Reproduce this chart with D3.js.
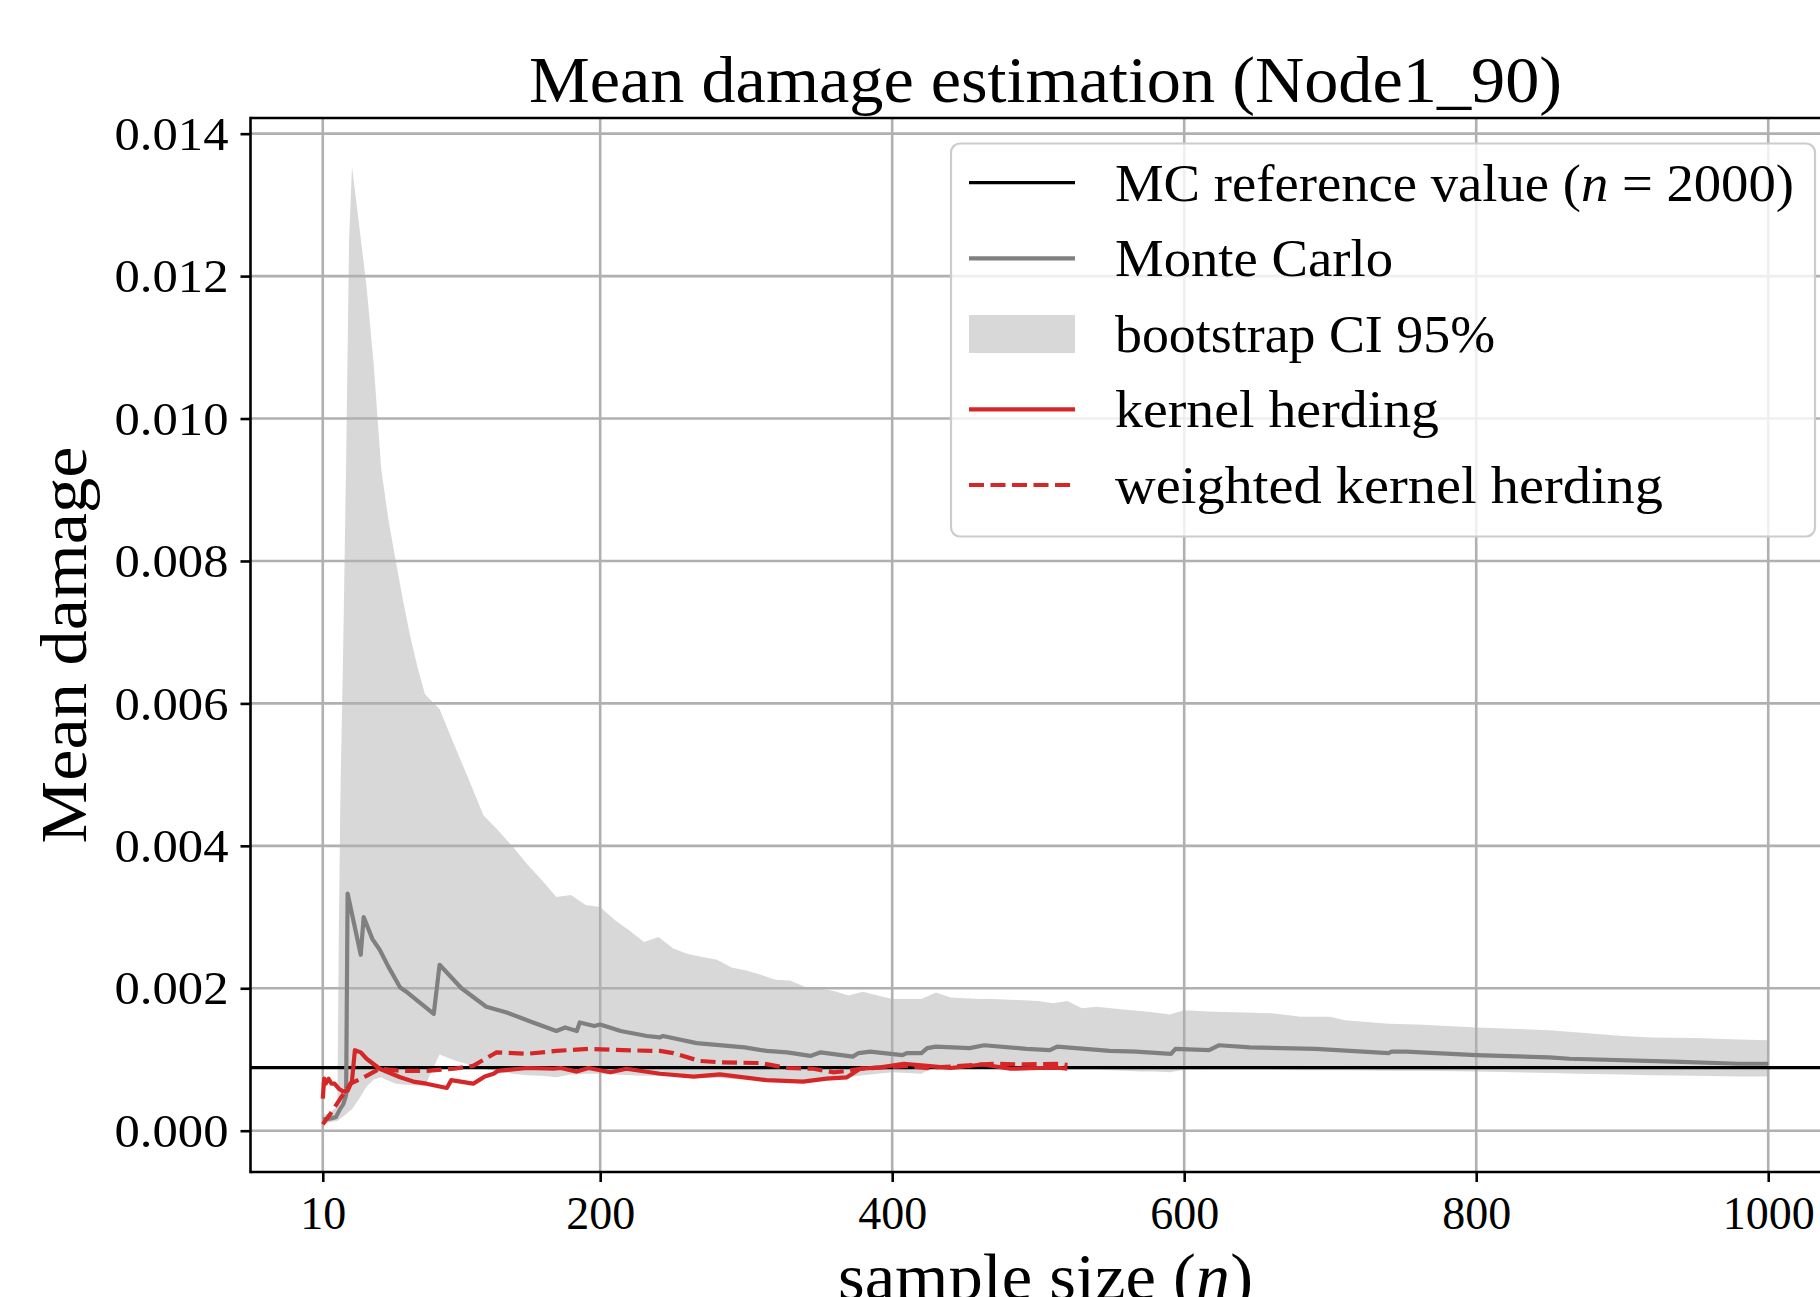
<!DOCTYPE html>
<html>
<head>
<meta charset="utf-8">
<script src="https://cdn.jsdelivr.net/npm/d3@7"></script>
<style>
  html, body { margin: 0; padding: 0; background: #ffffff; }
  svg { display: block; }
  text { font-family: "Liberation Serif", "DejaVu Serif", serif; fill: #000; }
</style>
</head>
<body>
<svg id="chart" width="1820" height="1297"></svg>
<script>
// ---------------- data ----------------
const xTicks = [10, 200, 400, 600, 800, 1000];
const yTicks = [0.000, 0.002, 0.004, 0.006, 0.008, 0.010, 0.012, 0.014];

const referenceValue = 0.000885;

const mcN = [10,15,19,22,24,26,27,36,38,44,49,55,63,68,86,90,105,122,136,154,170,176,184,186,196,200,214,232,241,243,266,299,314,328,344,351,373,377,385,407,410,420,424,430,453,463,492,508,513,549,567,591,594,617,624,645,690,740,742,752,800,850,864,935,980,1000];
const mcMean = [0.00016,0.00017,0.00019,0.00031,0.00037,0.00050,0.00333,0.00247,0.00300,0.00269,0.00254,0.00230,0.00201,0.00194,0.00164,0.00233,0.00200,0.00174,0.00166,0.00152,0.00140,0.00145,0.00140,0.00152,0.00147,0.00149,0.00140,0.00133,0.00131,0.00133,0.00123,0.00117,0.00112,0.00110,0.00105,0.00110,0.00104,0.00109,0.00111,0.00106,0.00109,0.00109,0.00116,0.00118,0.00116,0.00120,0.00115,0.00113,0.00118,0.00112,0.00111,0.00108,0.00115,0.00113,0.00120,0.00117,0.00115,0.00109,0.00111,0.00111,0.00106,0.00103,0.00101,0.00097,0.00094,0.00094];

const ciN = [10,15,20,21,22,24,26,28,30,35,40,45,50,55,60,65,70,75,80,90,100,110,120,130,140,150,160,170,180,190,200,210,220,230,240,250,260,270,280,290,300,310,320,330,340,350,360,370,380,390,400,410,420,430,440,450,460,470,480,490,500,510,520,530,540,550,560,570,580,590,600,620,640,660,680,700,710,740,760,800,850,870,900,920,950,980,1000];
const ciUpper = [0.00022,0.00025,0.00035,0.0028,0.0046,0.0068,0.0094,0.0125,0.01354,0.0127,0.01185,0.01073,0.0093,0.00857,0.0080,0.00744,0.00693,0.0065,0.00613,0.00592,0.00542,0.00493,0.00443,0.00422,0.00399,0.00374,0.00352,0.00328,0.00331,0.00317,0.00314,0.00296,0.00281,0.00265,0.00272,0.00256,0.00248,0.00244,0.00240,0.00229,0.00225,0.00219,0.00212,0.00211,0.00202,0.00200,0.00196,0.00190,0.00195,0.00190,0.00185,0.00185,0.00185,0.00194,0.00187,0.00186,0.00185,0.00185,0.00184,0.00183,0.00182,0.00179,0.00182,0.00172,0.00174,0.00172,0.00170,0.00168,0.00166,0.00163,0.00169,0.00167,0.00166,0.00165,0.00160,0.00160,0.00155,0.00150,0.00149,0.00145,0.00141,0.00138,0.00133,0.00131,0.00130,0.00128,0.00127];
const ciLower = [0.00010,0.00012,0.00014,0.00015,0.00017,0.00020,0.00023,0.00027,0.00030,0.00045,0.00062,0.00072,0.00075,0.00070,0.00066,0.00065,0.00064,0.000635,0.00063,0.00107,0.00099,0.00093,0.00087,0.00083,0.00080,0.00078,0.00077,0.00075,0.00079,0.00080,0.00080,0.00079,0.00078,0.00077,0.00077,0.00076,0.00075,0.00074,0.00074,0.00073,0.00072,0.00071,0.00070,0.00069,0.00068,0.00072,0.00074,0.00075,0.00078,0.00080,0.00082,0.00081,0.00080,0.00091,0.00088,0.00087,0.00087,0.00087,0.00087,0.00087,0.00087,0.00087,0.00086,0.00086,0.00086,0.00085,0.00084,0.00083,0.00083,0.00082,0.000855,0.00086,0.00086,0.00086,0.00085,0.00085,0.00085,0.00084,0.00084,0.00083,0.00081,0.00080,0.00079,0.00078,0.00077,0.00076,0.00076];

const khN = [10,11,12,14,16,18,21,24,27,30,32,36,40,49,63,72,81,95,98,113,117,121,127,130,150,168,173,184,192,207,218,241,264,282,314,339,355,369,378,392,408,424,440,462,481,500,515,520];
const khMean = [0.00045,0.00073,0.00066,0.00073,0.00066,0.00066,0.00059,0.00055,0.00056,0.00070,0.00113,0.00110,0.00101,0.00087,0.00075,0.00069,0.00066,0.00060,0.00071,0.00066,0.00071,0.00076,0.00080,0.00084,0.00088,0.00087,0.00088,0.00083,0.00088,0.00082,0.00087,0.00080,0.00076,0.00079,0.00071,0.00069,0.00073,0.00075,0.00087,0.00089,0.00094,0.00091,0.00088,0.00093,0.00087,0.00088,0.00088,0.00087];

const wkhN = [10,15,22,29,40,49,63,81,100,113,129,150,170,192,216,241,250,268,282,310,328,346,360,369,378,411,424,469,490,515,520];
const wkhMean = [0.00009,0.00023,0.00045,0.00066,0.00077,0.00087,0.00084,0.00084,0.00087,0.00091,0.00110,0.00108,0.00112,0.00115,0.00113,0.00112,0.00109,0.00098,0.00096,0.00095,0.00088,0.00087,0.00082,0.00084,0.00087,0.00091,0.00088,0.00094,0.00093,0.00094,0.00092];

const titleText = "Mean damage estimation (Node1_90)";
const legendLabels = ["MC reference value", "Monte Carlo", "bootstrap CI 95%", "kernel herding", "weighted kernel herding"];

// ---------------- layout ----------------
const plot = { left: 250.5, right: 1840.5, top: 118, bottom: 1172 };
const colors = { mc: "#808080", ci: "#d8d8d8", kh: "#d62728", ref: "#000000", grid: "#b0b0b0" };
const LW = 4.2;

const svg = d3.select("#chart");
svg.append("rect").attr("width", 1820).attr("height", 1297).attr("fill", "#fff");

const x = d3.scaleLinear().domain([-39.5, 1049.5]).range([plot.left, plot.right]);
const y = d3.scaleLinear().domain([-0.00058, 0.01422]).range([plot.bottom, plot.top]);

svg.append("defs").append("clipPath").attr("id", "clip")
  .append("rect").attr("x", plot.left).attr("y", plot.top)
  .attr("width", plot.right - plot.left).attr("height", plot.bottom - plot.top);

const g = svg.append("g").attr("clip-path", "url(#clip)");

// CI band
const ciData = ciN.map((n, i) => ({ n, lo: ciLower[i], hi: ciUpper[i] }));
g.append("path").datum(ciData)
  .attr("fill", colors.ci)
  .attr("d", d3.area().x(d => x(d.n)).y0(d => y(d.lo)).y1(d => y(d.hi)));

// grid
const gridG = g.append("g");
gridG.selectAll("line.gx").data(xTicks).join("line")
  .attr("x1", d => x(d)).attr("x2", d => x(d))
  .attr("y1", plot.top).attr("y2", plot.bottom)
  .attr("stroke", colors.grid).attr("stroke-width", 2.6);
gridG.selectAll("line.gy").data(yTicks).join("line")
  .attr("y1", d => y(d)).attr("y2", d => y(d))
  .attr("x1", plot.left).attr("x2", plot.right)
  .attr("stroke", colors.grid).attr("stroke-width", 2.6);

// reference line
g.append("line")
  .attr("x1", plot.left).attr("x2", plot.right)
  .attr("y1", y(referenceValue)).attr("y2", y(referenceValue))
  .attr("stroke", colors.ref).attr("stroke-width", 3.2);

const line = d3.line().x(d => x(d[0])).y(d => y(d[1]));

// Monte Carlo
g.append("path").datum(mcN.map((n, i) => [n, mcMean[i]]))
  .attr("fill", "none").attr("stroke", colors.mc).attr("stroke-width", LW)
  .attr("stroke-linejoin", "round").attr("d", line);

// kernel herding
g.append("path").datum(khN.map((n, i) => [n, khMean[i]]))
  .attr("fill", "none").attr("stroke", colors.kh).attr("stroke-width", LW)
  .attr("stroke-linejoin", "round").attr("d", line);

// weighted kernel herding
g.append("path").datum(wkhN.map((n, i) => [n, wkhMean[i]]))
  .attr("fill", "none").attr("stroke", colors.kh).attr("stroke-width", LW)
  .attr("stroke-dasharray", "15,6.5").attr("d", line);

// spines
svg.append("line").attr("x1", plot.left).attr("x2", plot.left).attr("y1", plot.top - 1.3).attr("y2", plot.bottom + 1.3)
  .attr("stroke", "#000").attr("stroke-width", 2.6);
svg.append("line").attr("x1", plot.left).attr("x2", plot.right).attr("y1", plot.top).attr("y2", plot.top)
  .attr("stroke", "#000").attr("stroke-width", 2.6);
svg.append("line").attr("x1", plot.left).attr("x2", plot.right).attr("y1", plot.bottom).attr("y2", plot.bottom)
  .attr("stroke", "#000").attr("stroke-width", 2.6);

// axes (ticks + labels)
const xAxis = d3.axisBottom(x).tickValues(xTicks).tickFormat(d3.format("d")).tickSize(10).tickPadding(8);
const xg = svg.append("g").attr("transform", `translate(0,${plot.bottom})`).call(xAxis);
xg.select(".domain").remove();
xg.selectAll(".tick line").attr("stroke", "#000").attr("stroke-width", 2.6);
xg.selectAll(".tick text").attr("font-size", 46).attr("font-family", "Liberation Serif").attr("fill", "#000")
  .attr("dy", null).attr("y", 57);

const yAxis = d3.axisLeft(y).tickValues(yTicks).tickFormat(d3.format(".3f")).tickSize(10).tickPadding(10);
const yg = svg.append("g").attr("transform", `translate(${plot.left},0)`).call(yAxis);
yg.select(".domain").remove();
yg.selectAll(".tick line").attr("stroke", "#000").attr("stroke-width", 2.6);
yg.selectAll(".tick text").attr("font-size", 46).attr("font-family", "Liberation Serif").attr("fill", "#000")
  .attr("dy", "0.34em").attr("x", -22)
  .attr("textLength", 114).attr("lengthAdjust", "spacingAndGlyphs");

// title
svg.append("text").attr("x", (plot.left + plot.right) / 2).attr("y", 102)
  .attr("text-anchor", "middle").attr("font-size", 66)
  .attr("textLength", 1033).attr("lengthAdjust", "spacingAndGlyphs")
  .text(titleText);

// x label
const xl = svg.append("text").attr("x", (plot.left + plot.right) / 2).attr("y", 1299)
  .attr("text-anchor", "middle").attr("font-size", 66)
  .attr("textLength", 415).attr("lengthAdjust", "spacingAndGlyphs");
xl.append("tspan").text("sample size (");
xl.append("tspan").attr("font-style", "italic").text("n");
xl.append("tspan").text(")");

// y label
svg.append("text").attr("transform", `translate(86,${(plot.top + plot.bottom) / 2}) rotate(-90)`)
  .attr("text-anchor", "middle").attr("font-size", 66)
  .attr("textLength", 397).attr("lengthAdjust", "spacingAndGlyphs")
  .text("Mean damage");

// legend
const leg = svg.append("g");
leg.append("rect").attr("x", 951).attr("y", 143.5).attr("width", 864).attr("height", 393)
  .attr("rx", 9).attr("ry", 9)
  .attr("fill", "#fff").attr("fill-opacity", 0.8)
  .attr("stroke", "#cccccc").attr("stroke-width", 2.2);

const rowY = [182.7, 258.3, 334, 409.3, 485];
const textWidths = [679, 278, 380, 324, 548];
const hx0 = 969, hx1 = 1075, tx = 1115;

leg.append("line").attr("x1", hx0).attr("x2", hx1).attr("y1", rowY[0]).attr("y2", rowY[0])
  .attr("stroke", colors.ref).attr("stroke-width", 3.2);
leg.append("line").attr("x1", hx0).attr("x2", hx1).attr("y1", rowY[1]).attr("y2", rowY[1])
  .attr("stroke", colors.mc).attr("stroke-width", LW);
leg.append("rect").attr("x", hx0).attr("y", rowY[2] - 19).attr("width", hx1 - hx0).attr("height", 38)
  .attr("fill", colors.ci);
leg.append("line").attr("x1", hx0).attr("x2", hx1).attr("y1", rowY[3]).attr("y2", rowY[3])
  .attr("stroke", colors.kh).attr("stroke-width", LW);
leg.append("line").attr("x1", hx0).attr("x2", hx1).attr("y1", rowY[4]).attr("y2", rowY[4])
  .attr("stroke", colors.kh).attr("stroke-width", LW).attr("stroke-dasharray", "15,6.5");

legendLabels.forEach((lab, i) => {
  const t = leg.append("text").attr("x", tx).attr("y", rowY[i] + 18)
    .attr("font-size", 52)
    .attr("textLength", textWidths[i]).attr("lengthAdjust", "spacingAndGlyphs");
  if (i === 0) {
    t.append("tspan").text(lab + " (");
    t.append("tspan").attr("font-style", "italic").text("n");
    t.append("tspan").text(" = 2000)");
  } else {
    t.text(lab);
  }
});
</script>
</body>
</html>
